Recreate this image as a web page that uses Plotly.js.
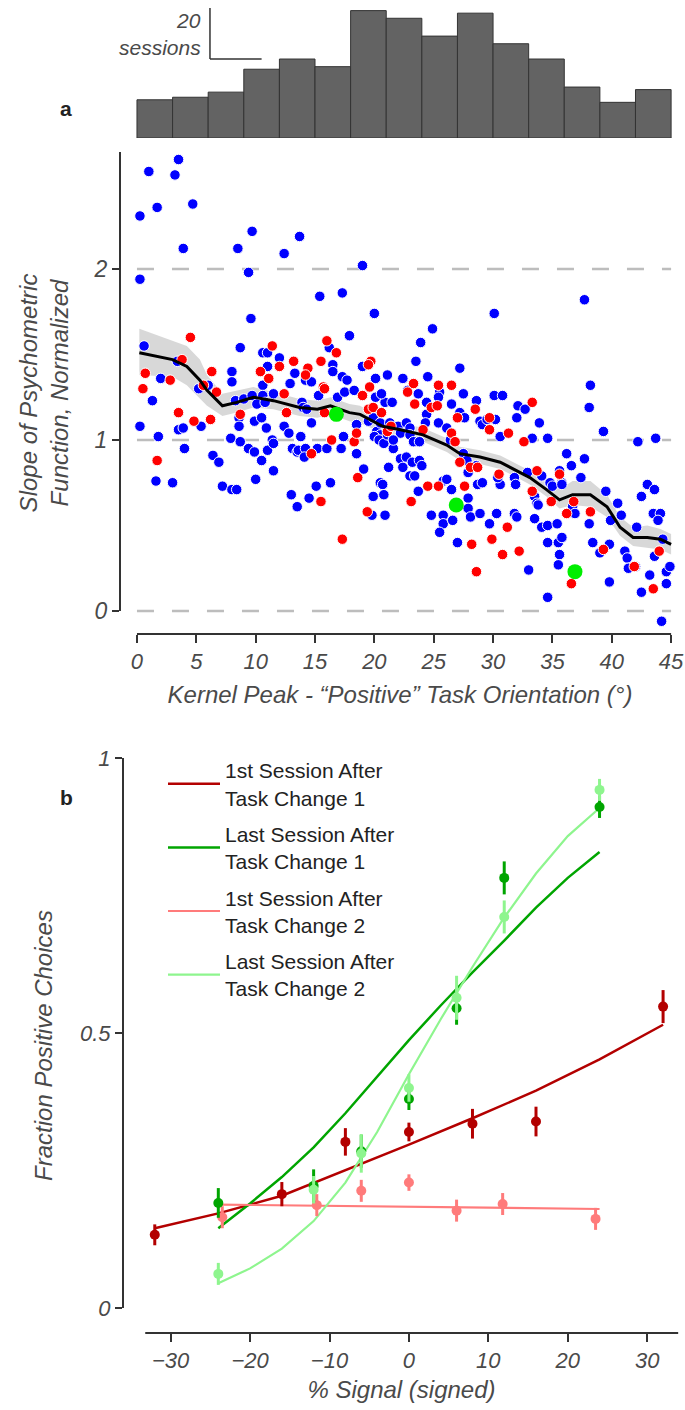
<!DOCTYPE html>
<html><head><meta charset="utf-8">
<script src="https://cdn.plot.ly/plotly-3.0.1.min.js"></script>
<style>html,body{margin:0;padding:0;background:#fff}</style>
</head><body><div id="chart" style="width:685px;height:1410px"></div>
<script>
// ---------- Panel a: histogram (sessions per 3° bin) ----------
const histCenters = [1.5,4.5,7.5,10.5,13.5,16.5,19.5,22.5,25.5,28.5,31.5,34.5,37.5,40.5,43.5];
const histCounts  = [15,16,18,27,31,28,50,47,40,49,37,31,20,14,19];

// ---------- Panel a: scatter ----------
const blueX = [0.25,0.25,1.0,1.7,3.2,3.5,4.7,3.9,8.5,9.7,9.4,9.6,12.4,13.7,19.0,15.4,17.3,20.0,17.9,37.7,30.1,24.9,23.9,23.5,27.2,21.1,22.4,24.5,38.2,
0.6,8.7,10.6,11.0,12.0,16.2,19.0,3.4,2.0,8.0,8.0,11.0,13.3,14.2,14.7,16.5,16.5,17.3,17.7,20.1,12.9,10.6,
1.3,0.25,1.8,1.6,3.0,3.5,3.9,5.4,4.0,5.2,6.0,6.4,6.9,7.2,8.0,8.4,7.9,8.7,8.3,9.0,9.7,8.6,8.6,9.4,9.9,9.9,10.5,10.0,10.1,10.5,10.6,10.8,10.9,11.0,11.4,11.5,11.5,11.5,12.4,12.8,13.0,13.5,13.1,13.5,13.6,14.2,14.1,13.8,13.9,14.0,14.3,14.7,14.5,15.1,15.2,16.0,15.3,16.3,16.9,17.2,17.4,17.5,18.3,18.5,18.5,19.1,19.8,19.9,20.5,20.7,20.8,20.9,19.5,19.9,20.2,20.5,20.0,20.4,20.8,21.2,21.6,20.9,20.1,20.6,21.5,
22.8,23.7,24.4,25.5,25.4,26.5,27.5,28.6,30.1,30.8,32.1,32.7,38.1,20.5,21.3,22.0,22.7,23.0,22.2,21.1,21.6,23.0,23.3,23.8,24.4,24.3,25.4,26.1,26.5,26.4,27.2,27.6,28.9,29.1,29.5,30.2,30.6,32.0,33.9,34.6,33.3,22.2,22.7,22.4,23.2,23.8,24.0,23.0,23.4,23.7,25.8,26.1,24.8,25.8,25.8,25.5,26.6,26.5,27.9,27.9,28.1,27.5,27.8,28.6,27.9,28.7,29.1,28.9,29.7,30.3,31.8,32.0,27.0,30.6,30.4,31.8,31.9,32.9,33.5,33.7,33.8,33.5,34.1,34.6,35.4,34.1,34.8,35.0,35.6,35.8,35.8,34.6,35.5,35.6,35.5,34.6,35.8,33.0,36.2,36.6,37.7,37.4,36.7,36.9,38.1,38.4,39.0,39.5,39.3,40.5,40.8,39.9,39.8,39.8,41.1,41.3,41.4,42.0,42.1,42.2,42.5,43.0,43.6,43.5,44.1,43.9,43.7,43.2,42.5,44.6,44.9,44.6,44.2,44.3,43.6];
const blueY = [2.31,1.94,2.57,2.36,2.55,2.64,2.38,2.12,2.12,2.22,1.98,1.71,2.09,2.19,2.02,1.84,1.86,1.74,1.61,1.82,1.74,1.65,1.57,1.46,1.42,1.38,1.36,1.37,1.32,
1.55,1.54,1.51,1.51,1.48,1.54,1.43,1.46,1.36,1.40,1.34,1.43,1.39,1.35,1.34,1.44,1.40,1.37,1.35,1.36,1.33,1.32,
1.23,1.08,1.02,0.76,0.75,1.06,1.07,1.08,0.95,1.30,1.32,0.91,0.87,0.73,0.71,0.71,1.01,0.99,1.23,1.24,1.26,1.13,1.08,0.95,0.93,1.11,1.13,0.77,1.21,0.88,1.26,1.22,1.07,0.94,1.00,0.98,0.82,1.27,1.08,1.04,0.68,0.61,0.95,0.93,0.94,0.95,0.90,1.02,1.22,1.19,1.18,1.10,0.66,0.73,0.95,0.95,1.26,0.75,1.25,0.95,1.02,1.28,1.29,0.92,1.09,0.83,0.56,0.67,0.75,0.74,0.68,0.56,1.11,1.13,1.05,1.03,1.02,1.00,0.98,0.84,0.95,1.22,1.25,1.27,1.22,
1.29,1.27,1.22,1.28,1.25,1.21,1.27,1.23,1.26,1.26,1.20,1.18,1.19,1.10,1.10,1.08,1.10,1.07,1.04,1.03,1.00,1.03,0.99,0.99,1.15,1.10,1.10,1.07,1.04,1.00,1.16,1.13,1.11,1.09,1.12,1.12,1.02,1.13,1.10,1.01,1.01,0.89,0.90,0.84,0.87,0.88,0.85,0.79,0.79,0.70,0.76,0.77,0.56,0.56,0.51,0.46,0.53,0.71,0.66,0.60,0.55,0.92,0.88,0.85,0.81,0.74,0.75,0.57,0.51,0.57,0.57,0.55,0.40,0.74,0.78,0.78,0.74,0.81,0.67,0.63,0.62,0.54,0.49,0.50,0.51,0.79,0.75,0.73,0.82,0.75,0.74,0.40,0.40,0.33,0.27,0.08,0.43,0.24,0.92,0.85,0.89,0.78,0.61,0.57,0.51,0.40,0.34,0.70,1.05,0.63,0.56,0.53,0.39,0.17,0.35,0.31,0.25,0.26,0.49,0.99,0.67,0.74,0.71,0.57,0.57,0.53,1.01,0.21,0.11,0.23,0.26,0.16,-0.06,0.42,0.32];
const redX = [4.5,11.4,13.2,15.5,16.0,16.8,19.7,19.5,3.8,0.7,2.8,6.3,12.0,10.4,11.1,14.4,14.2,15.7,19.6,0.5,3.5,1.7,4.8,6.2,5.6,6.7,8.7,12.4,12.6,14.7,15.5,15.8,15.8,16.4,17.3,18.3,18.5,18.6,19.0,19.4,19.5,19.9,20.6,21.1,21.4,23.3,25.4,26.5,22.8,23.4,24.8,25.3,33.3,24.1,26.5,27.0,28.5,29.7,29.7,31.3,32.6,23.1,24.5,25.4,27.6,26.8,27.2,28.1,28.7,28.2,29.9,28.6,30.8,32.2,31.2,30.5,33.3,33.7,35.6,34.9,36.2,36.8,36.6,38.2,39.3,41.9,43.5,44.0];
const redY = [1.60,1.55,1.46,1.46,1.58,1.51,1.46,1.44,1.47,1.39,1.35,1.40,1.43,1.40,1.36,1.42,1.38,1.31,1.31,1.30,1.16,0.88,1.11,1.12,1.32,1.28,1.15,1.27,1.16,0.92,0.64,1.30,1.16,1.00,0.42,0.99,1.04,0.78,1.26,0.58,1.18,1.19,1.16,1.05,1.08,1.33,1.32,1.32,1.28,1.21,1.19,1.20,1.22,1.06,1.04,1.13,1.18,1.13,1.06,1.04,0.99,0.64,0.73,0.73,0.73,0.99,0.87,0.84,0.84,0.39,0.42,0.23,0.33,0.35,0.49,0.80,0.70,0.82,0.80,0.64,0.57,0.64,0.16,0.58,0.36,0.26,0.13,0.35];
const greenX = [16.8,26.9,36.9];
const greenY = [1.15,0.62,0.23];

// running average line with its confidence band
const smoothX = [0.2,3.0,4.2,5.3,5.9,7.2,8.4,9.8,11.5,13.7,15.2,16.3,17.9,18.8,20.7,22.2,24.1,26.1,27.2,28.9,30.6,32.0,33.1,34.5,35.6,36.7,38.2,39.6,40.7,41.8,43.0,44.1,45.0];
const smoothY = [1.51,1.47,1.43,1.35,1.29,1.20,1.22,1.25,1.23,1.19,1.18,1.20,1.16,1.15,1.08,1.06,1.03,0.97,0.92,0.90,0.87,0.82,0.78,0.71,0.65,0.68,0.68,0.61,0.49,0.43,0.43,0.42,0.39];
const bandLo  = [1.38,1.37,1.32,1.24,1.20,1.14,1.16,1.19,1.18,1.14,1.13,1.15,1.11,1.10,1.04,1.02,0.99,0.93,0.88,0.86,0.83,0.78,0.74,0.67,0.60,0.62,0.61,0.55,0.44,0.38,0.37,0.36,0.33];
const bandHi  = [1.65,1.58,1.55,1.47,1.38,1.27,1.29,1.31,1.28,1.24,1.23,1.25,1.21,1.20,1.12,1.10,1.07,1.01,0.96,0.94,0.91,0.86,0.82,0.76,0.71,0.76,0.76,0.68,0.55,0.49,0.50,0.48,0.45];

// ---------- Panel b: psychometric data ----------
const signal1 = [-32,-16,-8,0,8,16,32];
const first1Y = [0.133,0.207,0.302,0.320,0.335,0.339,0.548];
const first1E = [0.019,0.022,0.025,0.017,0.027,0.027,0.030];
const signal2 = [-24,-12,-6,0,6,12,24];
const last1Y  = [0.191,0.222,0.285,0.380,0.545,0.782,0.911];
const last1E  = [0.027,0.030,0.030,0.020,0.030,0.030,0.020];
const signal2p = [-23.5,-11.6,-6,0,6,11.8,23.5];
const first2Y = [0.165,0.187,0.213,0.228,0.177,0.189,0.162];
const first2E = [0.020,0.020,0.020,0.015,0.020,0.020,0.020];
const last2Y  = [0.062,0.215,0.281,0.400,0.564,0.711,0.942];
const last2E  = [0.020,0.025,0.035,0.025,0.040,0.030,0.020];

// fitted curves
const fitFirst1X = [-32,-24,-16,-8,0,8,16,24,32];
const fitFirst1Y = [0.145,0.172,0.204,0.250,0.297,0.345,0.395,0.452,0.515];
const fitLastX   = [-24,-20,-16,-12,-8,-4,0,4,8,12,16,20,24];
const fitLast1Y  = [0.145,0.19,0.238,0.292,0.354,0.42,0.487,0.55,0.61,0.668,0.728,0.782,0.829];
const fitLast2Y  = [0.045,0.072,0.108,0.158,0.228,0.32,0.425,0.525,0.62,0.71,0.79,0.858,0.909];
const fitFirst2X = [-24,24];
const fitFirst2Y = [0.188,0.180];

const seriesNames = ['1st Session After<br>Task Change 1','Last Session After<br>Task Change 1','1st Session After<br>Task Change 2','Last Session After<br>Task Change 2'];
const seriesColors = ['#b30000','#00a500','#ff7b7b','#8ef58e'];

// ---------- layout helpers (pixel -> paper) ----------
const W = 685, H = 1410;
const fx = p => p / W;
const fy = p => 1 - p / H;

const FAM = 'Liberation Sans, Arial, sans-serif';
const tickFont = {family:FAM, size:22, color:'#4a4a4a', style:'italic'};
const titleFont = {family:FAM, size:24, color:'#4a4a4a', style:'italic'};

const traces = [];
// histogram
traces.push({type:'bar', x:histCenters, y:histCounts, width:3, xaxis:'x', yaxis:'y',
  marker:{color:'#636363', line:{color:'#333', width:1}}, showlegend:false, hoverinfo:'skip'});
// band
traces.push({type:'scatter', mode:'lines', x:smoothX, y:bandLo, xaxis:'x2', yaxis:'y2', line:{width:0, color:'rgba(0,0,0,0)'}, showlegend:false, hoverinfo:'skip'});
traces.push({type:'scatter', mode:'lines', x:smoothX, y:bandHi, xaxis:'x2', yaxis:'y2', fill:'tonexty', fillcolor:'rgba(190,190,190,0.6)', line:{width:0, color:'rgba(0,0,0,0)'}, showlegend:false, hoverinfo:'skip'});
// points
traces.push({type:'scatter', mode:'markers', x:blueX, y:blueY, xaxis:'x2', yaxis:'y2',
  marker:{color:'#0000ff', size:10.5, line:{color:'#fff', width:1}}, showlegend:false});
traces.push({type:'scatter', mode:'markers', x:redX, y:redY, xaxis:'x2', yaxis:'y2',
  marker:{color:'#ff0000', size:10.5, line:{color:'#fff', width:1}}, showlegend:false});
traces.push({type:'scatter', mode:'lines', x:smoothX, y:smoothY, xaxis:'x2', yaxis:'y2', line:{color:'#000', width:3}, showlegend:false});
traces.push({type:'scatter', mode:'markers', x:greenX, y:greenY, xaxis:'x2', yaxis:'y2',
  marker:{color:'#00ee00', size:15}, showlegend:false});

// panel b fitted lines (legend)
const fitsX = [fitFirst1X, fitLastX, fitFirst2X, fitLastX];
const fitsY = [fitFirst1Y, fitLast1Y, fitFirst2Y, fitLast2Y];
const widths = [2.5, 2.5, 2.2, 2.2];
for (let i = 0; i < 4; i++) {
  traces.push({type:'scatter', mode:'lines', x:fitsX[i], y:fitsY[i], xaxis:'x3', yaxis:'y3',
    line:{color:seriesColors[i], width:widths[i]}, name:seriesNames[i], legendgroup:'g'+i, showlegend:true});
}
// panel b points with error bars
const ptsX = [signal1, signal2, signal2p, signal2];
const ptsY = [first1Y, last1Y, first2Y, last2Y];
const ptsE = [first1E, last1E, first2E, last2E];
const order = [2, 0, 1, 3];
for (const i of order) {
  traces.push({type:'scatter', mode:'markers', x:ptsX[i], y:ptsY[i], xaxis:'x3', yaxis:'y3',
    error_y:{type:'data', array:ptsE[i], visible:true, color:seriesColors[i], thickness:3, width:0},
    marker:{color:seriesColors[i], size:10}, showlegend:false, legendgroup:'g'+i});
}

const xA = [fx(120), fx(680)];
const xRangeA = [-1.43, 45.75];
const xB = [fx(123), fx(680)];
const xRangeB = [-36.0, 34.13];

const layout = {
  width: W, height: H,
  margin:{l:0, r:0, t:0, b:0},
  paper_bgcolor:'#fff', plot_bgcolor:'rgba(0,0,0,0)',
  showlegend:true,
  legend:{x:fx(163), y:fy(750), xanchor:'left', yanchor:'top', bgcolor:'rgba(0,0,0,0)',
    font:{family:FAM, size:21, color:'#222'}, tracegroupgap:6, itemwidth:52, valign:'middle'},
  xaxis:{domain:xA, range:xRangeA, visible:false, anchor:'y'},
  yaxis:{domain:[fy(138), fy(4)], range:[0, 52.6], visible:false, anchor:'x'},
  xaxis2:{domain:xA, range:xRangeA, anchor:'y2', showgrid:false, zeroline:false, showline:false,
    tickmode:'array', tickvals:[0,5,10,15,20,25,30,35,40,45], ticks:'outside', ticklen:8, tickwidth:2, tickcolor:'#333',
    tickfont:tickFont, automargin:false,
    title:{text:'Kernel Peak - \u201cPositive\u201d Task Orientation (\u00b0)', font:titleFont, standoff:12}},
  yaxis2:{domain:[fy(634), fy(152)], range:[-0.1345, 2.684], anchor:'x2', showgrid:false, zeroline:false, showline:false,
    tickmode:'array', tickvals:[0,1,2], ticks:'outside', ticklen:7, tickwidth:2, tickcolor:'#333',
    tickfont:{...tickFont, size:23}, automargin:false,
    title:{text:'Slope of Psychometric<br>Function, Normalized', font:titleFont, standoff:18}},
  xaxis3:{domain:xB, range:xRangeB, anchor:'y3', showgrid:false, zeroline:false, showline:false,
    tickmode:'array', tickvals:[-30,-20,-10,0,10,20,30], ticks:'outside', ticklen:8, tickwidth:2, tickcolor:'#333',
    tickfont:tickFont, automargin:false,
    title:{text:'% Signal (signed)', font:titleFont, standoff:8}},
  yaxis3:{domain:[fy(1333), fy(758)], range:[-0.0455, 1.0], anchor:'x3', showgrid:false, zeroline:false, showline:false,
    tickmode:'array', tickvals:[0,0.5,1], ticktext:['0','0.5','1'], ticks:'outside', ticklen:7, tickwidth:2, tickcolor:'#333',
    tickfont:tickFont, automargin:false,
    title:{text:'Fraction Positive Choices', font:titleFont, standoff:20}},
  shapes:[
    // dashed reference lines panel a
    ...[0,1,2].map(v => ({type:'line', xref:'x2', yref:'y2', x0:0, x1:45, y0:v, y1:v, layer:'below',
      line:{color:'#bdbdbd', width:2.5, dash:'17px,18px'}})),
    // spines panel a
    {type:'line', xref:'x2 domain', yref:'y2', x0:0, x1:0, y0:0, y1:2.684, line:{color:'#333', width:2}},
    {type:'line', xref:'x2', yref:'y2 domain', x0:0, x1:45, y0:0, y1:0, line:{color:'#333', width:2}},
    // spines panel b
    {type:'line', xref:'x3 domain', yref:'y3', x0:0, x1:0, y0:0, y1:1, line:{color:'#333', width:2}},
    {type:'line', xref:'x3', yref:'y3 domain', x0:-33.2, x1:33.9, y0:0, y1:0, line:{color:'#333', width:2}},
    // scale bar on histogram (20 sessions)
    {type:'line', xref:'x', yref:'y', x0:6.15, x1:6.15, y0:31, y1:51, line:{color:'#333', width:1.5}},
    {type:'line', xref:'x', yref:'y', x0:6.15, x1:10.5, y0:31, y1:31, line:{color:'#333', width:1.5}}
  ],
  annotations:[
    {xref:'x', yref:'y', x:5.6, y:46.0, text:'20', showarrow:false, xanchor:'right', yanchor:'middle',
      font:{family:FAM, size:21, color:'#4a4a4a', style:'italic'}},
    {xref:'x', yref:'y', x:5.6, y:35.5, text:'sessions', showarrow:false, xanchor:'right', yanchor:'middle',
      font:{family:FAM, size:21, color:'#4a4a4a', style:'italic'}},
    {xref:'paper', yref:'paper', x:fx(66), y:fy(108), text:'<b>a</b>', showarrow:false, xanchor:'center', yanchor:'middle',
      font:{family:FAM, size:21, color:'#222'}},
    {xref:'paper', yref:'paper', x:fx(66), y:fy(797), text:'<b>b</b>', showarrow:false, xanchor:'center', yanchor:'middle',
      font:{family:FAM, size:21, color:'#222'}}
  ]
};

Plotly.newPlot('chart', traces, layout, {displayModeBar:false, staticPlot:true});
</script></body></html>
